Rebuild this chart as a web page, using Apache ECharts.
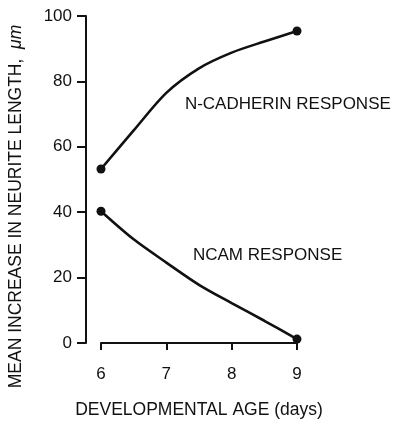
<!DOCTYPE html>
<html>
<head>
<meta charset="utf-8">
<script src="https://cdn.jsdelivr.net/npm/echarts@6/dist/echarts.min.js"></script>
<style>
  html, body { margin: 0; padding: 0; background: #fff; }
  #chart { width: 395px; height: 424px; }
</style>
</head>
<body>
<div id="chart"></div>
<script>
// Developmental age (days), curve read every half day
const ages = [6, 6.5, 7, 7.5, 8, 8.5, 9];
// Mean increase in neurite length (um)
const cadherin = [53.2, 65, 76.5, 84, 88.8, 92.2, 95.4];
const ncam = [40.3, 31.7, 24.6, 17.8, 12.2, 6.8, 1.2];
// only the measured end points carry a dot
const dotted = [true, false, false, false, false, false, true];

// curve labels (data coordinates)
const labelText = ['N-CADHERIN RESPONSE', 'NCAM RESPONSE'];
const labelAge = [8.86, 8.55];
const labelValue = [73, 26.8];

const font = "'Liberation Sans', Arial, Helvetica, sans-serif";
const ink = '#111';

function toData(vals) {
  return vals.map((v, i) => ({
    value: [ages[i], v],
    symbol: dotted[i] ? 'circle' : 'none'
  }));
}

function curveLabel(i) {
  return {
    symbol: 'circle',
    symbolSize: 1,
    itemStyle: { color: 'rgba(0,0,0,0)' },
    label: {
      show: true,
      position: 'inside',
      formatter: labelText[i],
      color: ink,
      fontSize: 17,
      fontFamily: font
    },
    data: [{ coord: [labelAge[i], labelValue[i]] }]
  };
}

const chart = echarts.init(document.getElementById('chart'));

chart.setOption({
  animation: false,
  backgroundColor: '#fff',
  grid: { left: 101, right: 98, top: 16, bottom: 80 },
  xAxis: {
    type: 'value',
    min: 6,
    max: 9,
    interval: 1,
    offset: 12,
    name: 'DEVELOPMENTAL AGE (days)',
    nameLocation: 'middle',
    nameGap: 46,
    nameTextStyle: { color: ink, fontSize: 17.5, fontFamily: font },
    axisLine: { lineStyle: { color: ink, width: 2 } },
    axisTick: { inside: false, length: 7, lineStyle: { color: ink, width: 2 } },
    axisLabel: { color: ink, fontSize: 17, fontFamily: font, margin: 11 },
    splitLine: { show: false }
  },
  yAxis: {
    type: 'value',
    min: 0,
    max: 100,
    interval: 20,
    offset: 15,
    name: 'MEAN INCREASE IN NEURITE LENGTH,  {i|μm}',
    nameLocation: 'middle',
    nameGap: 61,
    nameTextStyle: {
      color: ink, fontSize: 17.5, fontFamily: font,
      padding: [0, 54, 0, 0],
      rich: { i: { fontStyle: 'italic', fontSize: 17.5, fontFamily: font, color: ink } }
    },
    axisLine: { show: true, lineStyle: { color: ink, width: 2 } },
    axisTick: { show: true, length: 9, lineStyle: { color: ink, width: 2 } },
    axisLabel: { color: ink, fontSize: 17, fontFamily: font, margin: 14 },
    splitLine: { show: false }
  },
  series: [
    {
      name: 'N-cadherin',
      type: 'line',
      smooth: 0.3,
      data: toData(cadherin),
      symbolSize: 9,
      lineStyle: { color: ink, width: 2.6 },
      itemStyle: { color: ink },
      markPoint: curveLabel(0)
    },
    {
      name: 'NCAM',
      type: 'line',
      smooth: 0.3,
      data: toData(ncam),
      symbolSize: 9,
      lineStyle: { color: ink, width: 2.6 },
      itemStyle: { color: ink },
      markPoint: curveLabel(1)
    }
  ]
});
</script>
</body>
</html>
